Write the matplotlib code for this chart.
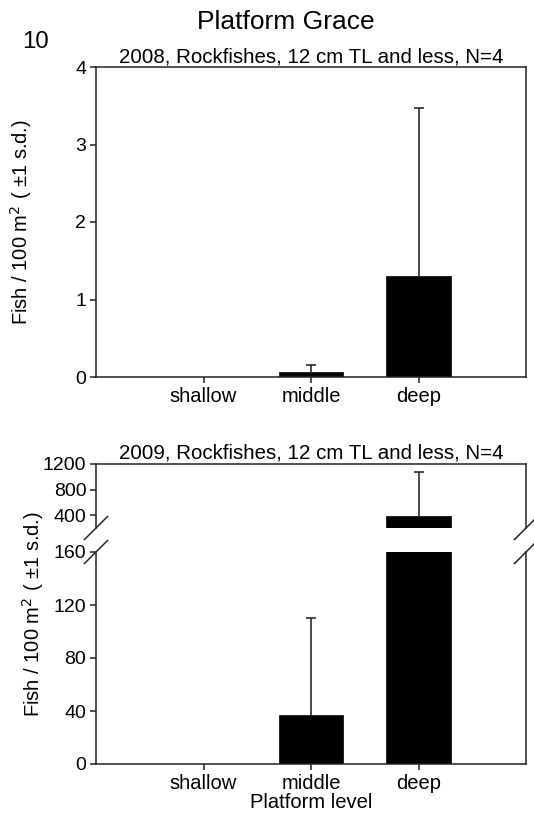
import numpy as np
import matplotlib
matplotlib.use("Agg")
import matplotlib.pyplot as plt
from matplotlib.lines import Line2D

plt.rcParams['font.family'] = ['Liberation Sans', 'DejaVu Sans']

# data
categories = ['shallow', 'middle', 'deep']
mean_2008 = [0, 0.07, 1.3]
sd_2008 = [0, 0.08, 2.17]
mean_2009 = [0, 37, 390]
sd_2009 = [0, 73, 690]

title_2008 = '2008, Rockfishes, 12 cm TL and less, N=4'
title_2009 = '2009, Rockfishes, 12 cm TL and less, N=4'
ylab = 'Fish / 100 m$^2$ ( \u00b11 s.d.)'

W, H = 534, 823
fig = plt.figure(figsize=(W / 100, H / 100), dpi=100)


def rect(left, top, right, bottom):
    # pixel box -> figure fraction
    return [left / W, 1 - bottom / H, (right - left) / W, (bottom - top) / H]


ax1 = fig.add_axes(rect(96, 67, 526, 377))
ax_hi = fig.add_axes(rect(96, 464, 526, 528))
ax_lo = fig.add_axes(rect(96, 552, 526, 764))

x = np.arange(len(categories))


def draw_bars(ax, means, sds):
    ax.bar(x, means, width=0.6, color='black', edgecolor='black', linewidth=0.5, zorder=3)
    idx = [i for i in range(len(means)) if means[i] > 0]
    eb = ax.errorbar(x[idx], np.array(means)[idx],
                     yerr=[np.zeros(len(idx)), np.array(sds)[idx]],
                     fmt='none', ecolor='#1a1a1a', elinewidth=1.1, capsize=3.5,
                     capthick=1.1, zorder=2)
    # only the upper cap is shown
    eb[1][0].set_visible(False)
    ax.set_xlim(-1, 3)
    for s in ax.spines.values():
        s.set_linewidth(1.1)
        s.set_color('#222222')
        s.set_zorder(4)
    ax.tick_params(axis='both', direction='out', length=4, width=1.1, labelsize=14,
                   color='#222222', pad=3)
    ax.tick_params(axis='y', right=False)


# 2008 panel
draw_bars(ax1, mean_2008, sd_2008)
ax1.set_ylim(0, 4)
ax1.set_yticks([0, 1, 2, 3, 4])
ax1.set_xticks(x)
ax1.set_xticklabels(categories, fontsize=14.5)
ax1.set_title(title_2008, fontsize=14.8, pad=3)
ax1.set_ylabel(ylab, fontsize=14.5)
ax1.yaxis.set_label_coords(-0.145, 0.5)

# 2009 panel, broken axis
draw_bars(ax_hi, mean_2009, sd_2009)
draw_bars(ax_lo, mean_2009, sd_2009)
ax_hi.set_ylim(200, 1200)
ax_hi.set_yticks([400, 800, 1200])
ax_hi.spines['bottom'].set_visible(False)
ax_hi.set_xticks([])
ax_hi.set_title(title_2009, fontsize=14.8, pad=4)

ax_lo.set_ylim(0, 160)
ax_lo.set_yticks([0, 40, 80, 120, 160])
ax_lo.spines['top'].set_visible(False)
ax_lo.set_xticks(x)
ax_lo.set_xticklabels(categories, fontsize=14.5)
ax_lo.set_xlabel('Platform level', fontsize=14.5, labelpad=0)

fig.text(33 / W, 1 - 614 / H, ylab, rotation=90, ha='center', va='center', fontsize=14.5)

# break marks
d = 11.5
for px in (96, 526):
    for py in (528, 552):
        fig.add_artist(Line2D([(px - d) / W, (px + d) / W],
                              [1 - (py + d) / H, 1 - (py - d) / H],
                              color='#222222', linewidth=1.1))

fig.text(286 / W, 1 - 22 / H, 'Platform Grace', ha='center', va='center', fontsize=19)
fig.text(22 / W, 1 - 42 / H, '10', ha='left', va='center', fontsize=17.3)

fig.savefig('out.png', dpi=100)
